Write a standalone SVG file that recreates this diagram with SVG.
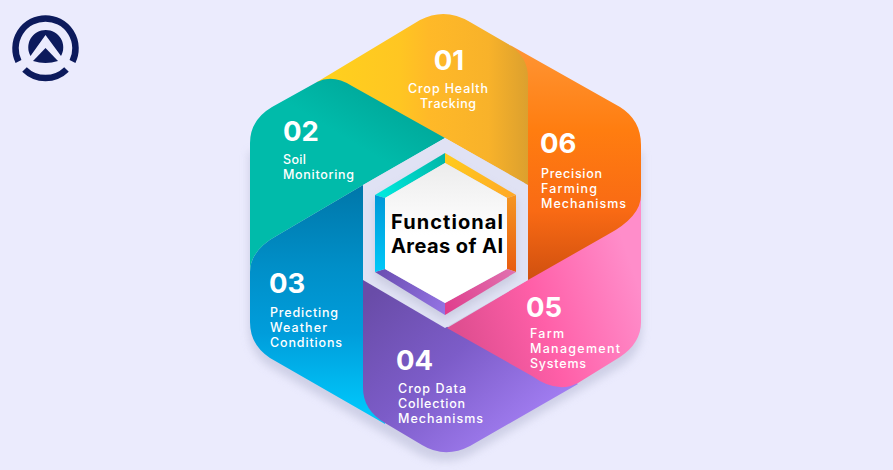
<svg xmlns="http://www.w3.org/2000/svg" width="893" height="470" viewBox="0 0 893 470">
<style>
.n{font-family:"Inter","Open Sans","Liberation Sans",sans-serif;font-weight:700;font-size:27.5px;fill:#fff}
.l{font-family:"Inter","Open Sans","Liberation Sans",sans-serif;font-weight:500;font-size:12.5px;fill:#fff}
.c{font-family:"Inter","Open Sans","Liberation Sans",sans-serif;font-weight:700;font-size:20px;fill:#000}
.m{text-anchor:middle}
.logo{fill:#0c1a5c}
.ring{fill:none;stroke:#0c1a5c;stroke-width:6.500}
</style>
<defs>
<filter id="blur" x="-20%" y="-20%" width="140%" height="140%"><feGaussianBlur stdDeviation="4"/></filter>
<filter id="blur2" x="-30%" y="-30%" width="160%" height="160%"><feGaussianBlur stdDeviation="4"/></filter>
<linearGradient id="gY" gradientUnits="userSpaceOnUse" x1="330" y1="0" x2="528" y2="0"><stop offset="0" stop-color="#ffd01e"/><stop offset=".35" stop-color="#ffc622"/><stop offset=".5" stop-color="#ffb928"/><stop offset=".8" stop-color="#f8b22a"/><stop offset="1" stop-color="#dca02e"/></linearGradient>
<linearGradient id="gT" gradientUnits="userSpaceOnUse" x1="395" y1="100" x2="365" y2="150"><stop offset="0" stop-color="#00a99b"/><stop offset="1" stop-color="#00bbaa"/></linearGradient>
<linearGradient id="gB" gradientUnits="userSpaceOnUse" x1="0" y1="190" x2="0" y2="410"><stop offset="0" stop-color="#0078ab"/><stop offset=".35" stop-color="#008fc8"/><stop offset=".65" stop-color="#009ddb"/><stop offset="1" stop-color="#00c6fa"/></linearGradient>
<linearGradient id="gP" gradientUnits="userSpaceOnUse" x1="375" y1="290" x2="510" y2="440"><stop offset="0" stop-color="#694ca8"/><stop offset=".5" stop-color="#7c5cc8"/><stop offset="1" stop-color="#a07cf0"/></linearGradient>
<linearGradient id="gK" gradientUnits="userSpaceOnUse" x1="465" y1="350" x2="640" y2="290"><stop offset="0" stop-color="#df4e90"/><stop offset=".45" stop-color="#ff5fa8"/><stop offset="1" stop-color="#ff8dca"/></linearGradient>
<linearGradient id="gO" gradientUnits="userSpaceOnUse" x1="0" y1="50" x2="0" y2="280"><stop offset="0" stop-color="#ff9432"/><stop offset=".35" stop-color="#ff7d10"/><stop offset=".7" stop-color="#f96a14"/><stop offset="1" stop-color="#d0500f"/></linearGradient>
<linearGradient id="bTL" gradientUnits="userSpaceOnUse" x1="380" y1="190" x2="445" y2="155"><stop offset="0" stop-color="#00e8dc"/><stop offset="1" stop-color="#00b5a6"/></linearGradient>
<linearGradient id="bTR" gradientUnits="userSpaceOnUse" x1="445" y1="155" x2="516" y2="195"><stop offset="0" stop-color="#ffcc1e"/><stop offset="1" stop-color="#ffa826"/></linearGradient>
<linearGradient id="bR" gradientUnits="userSpaceOnUse" x1="0" y1="195" x2="0" y2="272"><stop offset="0" stop-color="#f59622"/><stop offset="1" stop-color="#e85c10"/></linearGradient>
<linearGradient id="bBR" gradientUnits="userSpaceOnUse" x1="445" y1="310" x2="516" y2="272"><stop offset="0" stop-color="#e03d8c"/><stop offset="1" stop-color="#e072b0"/></linearGradient>
<linearGradient id="bBL" gradientUnits="userSpaceOnUse" x1="375" y1="272" x2="445" y2="312"><stop offset="0" stop-color="#6a4db0"/><stop offset="1" stop-color="#9474e4"/></linearGradient>
<linearGradient id="bL" gradientUnits="userSpaceOnUse" x1="0" y1="195" x2="0" y2="272"><stop offset="0" stop-color="#0098d8"/><stop offset="1" stop-color="#00c8f8"/></linearGradient>
<linearGradient id="gW" gradientUnits="userSpaceOnUse" x1="0" y1="163" x2="0" y2="235"><stop offset="0" stop-color="#ececec"/><stop offset="1" stop-color="#fff"/></linearGradient>
</defs>
<rect width="893" height="470" fill="#ebebfd"/>
<g id="logo">
<path class="ring" d="M18.500 61.500A30 30 0 1 1 72.500 61.500"/>
<path class="ring" d="M24.500 69.500A30 30 0 0 0 66.500 69.500"/>
<path class="logo" d="M30.500 56A17.500 17.500 0 1 1 61 56L45.500 35Z"/>
<path class="logo" d="M45.500 48L58 61Q45.500 65 33 61Z"/>
</g>
<path id="hex-shadow" d="M249 152V328Q249 354 270 367L420 455Q445 467 470 455L620 367Q642 354 642 328V152Z" fill="#c9cbe2" opacity=".85" filter="url(#blur)"/>
<g id="node-03"><path d="M363 185L278 235Q250 250 250 272L250 322Q250 345 270 358L385 424L385 300Z" fill="url(#gB)"/>
<text class="n" x="269" y="293">03</text>
<text class="l" x="270" y="317" textLength="68">Predicting</text><text class="l" x="270" y="332" textLength="57">Weather</text><text class="l" x="270" y="347" textLength="72">Conditions</text></g>
<g id="node-04"><path d="M363 279L445 326L560 370L578 384L470 446Q445 459 422 445L385 423Q363 410 363 388Z" fill="url(#gP)"/>
<text class="n" x="396" y="370">04</text>
<text class="l" x="398" y="393" textLength="68">Crop Data</text><text class="l" x="398" y="408" textLength="67">Collection</text><text class="l" x="398" y="423" textLength="85">Mechanisms</text></g>
<g id="node-05"><path d="M447 328L528 280L641 190L641 322Q641 343 620 357L578 383Q557 394 532 376Z" fill="url(#gK)"/>
<text class="n" x="526" y="317">05</text>
<text class="l" x="530" y="338" textLength="34">Farm</text><text class="l" x="530" y="353" textLength="90">Management</text><text class="l" x="530" y="368" textLength="56">Systems</text></g>
<g id="node-06"><path d="M510 45L620 107Q641 120 641 145L641 195Q641 217 607 235L528 280L520 60Z" fill="url(#gO)"/>
<text class="n" x="540" y="153">06</text>
<text class="l" x="541" y="178" textLength="61">Precision</text><text class="l" x="541" y="193" textLength="56">Farming</text><text class="l" x="541" y="208" textLength="85">Mechanisms</text></g>
<g id="node-01"><path d="M317 82L420 20Q445 7 470 22L508 44Q528 56 528 78L528 185L445 138L350 100Z" fill="url(#gY)"/>
<text class="n m" x="449" y="70">01</text>
<text class="l m" x="448" y="93" textLength="80">Crop Health</text><text class="l m" x="448" y="108" textLength="56">Tracking</text></g>
<g id="node-02"><path d="M317 82Q333 74 352 86L445 138L363 185L278 235Q250 250 250 272L250 143Q250 120 272 107Z" fill="url(#gT)"/>
<text class="n" x="283" y="141">02</text>
<text class="l" x="283" y="164" textLength="23">Soil</text><text class="l" x="283" y="179" textLength="71">Monitoring</text></g>
<g id="center">
<path d="M445 138L528 185V280L445 328L363 280V185Z" fill="#e0e2f4"/>
<path d="M445 160L516 200V278L445 320L375 278V200Z" fill="#b8bad0" opacity=".55" filter="url(#blur2)"/>
<path d="M445 153L375 195L385 198L445 163Z" fill="url(#bTL)"/>
<path d="M445 153L516 195L507 198L445 163Z" fill="url(#bTR)"/>
<path d="M516 195V272L507 269V198Z" fill="url(#bR)"/>
<path d="M516 272L445 315V303L507 269Z" fill="url(#bBR)"/>
<path d="M445 315L375 272L385 269L445 303Z" fill="url(#bBL)"/>
<path d="M375 272V195L385 198V269Z" fill="url(#bL)"/>
<path d="M445 163L507 198V269L445 303L385 269V198Z" fill="url(#gW)"/>
<text class="c" x="391" y="229" textLength="112">Functional</text>
<text class="c" x="391" y="253" textLength="112">Areas of AI</text>
</g>
</svg>
